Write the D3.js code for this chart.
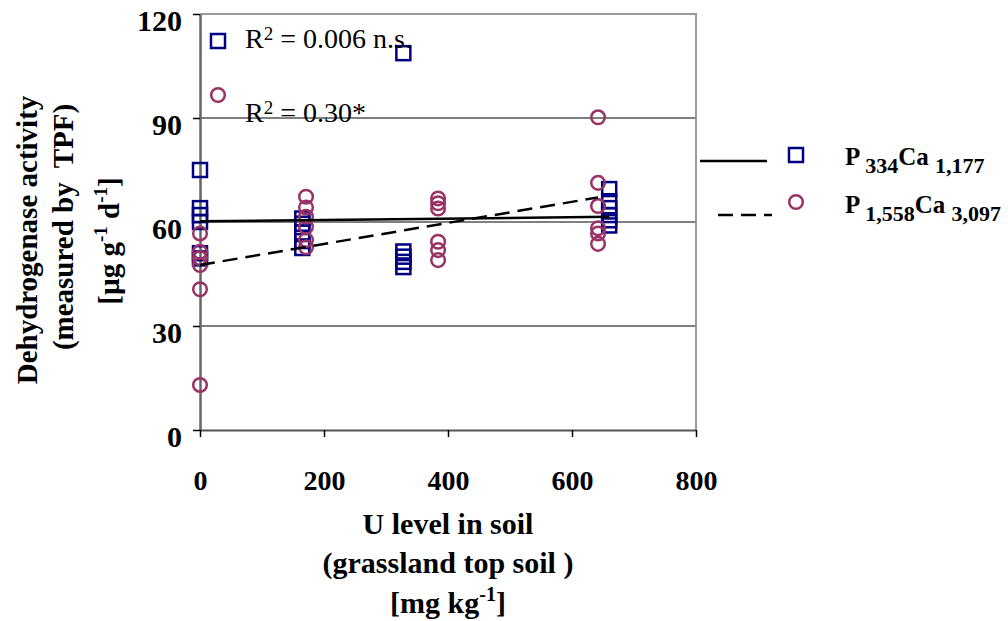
<!DOCTYPE html>
<html>
<head>
<meta charset="utf-8">
<script src="https://cdn.jsdelivr.net/npm/d3@7"></script>
<style>
  body { margin: 0; background: #fff; }
  #chart { width: 1008px; height: 621px; }
  text { font-family: "Liberation Serif", "Times New Roman", serif; fill: #000; }
</style>
</head>
<body>
<div id="chart"></div>
<script>
// U level in soil [mg/kg] and dehydrogenase activity, P334Ca1,177
const sqU = [0, 0, 0, 0, 0, 0, 165, 165, 165, 165, 165, 328, 328, 328, 328, 328, 660, 660, 660, 660, 660, 660];
const sqAct = [75, 64, 62, 60, 51, 49.5, 61, 59.5, 57, 54.5, 52.5, 108.7, 51.5, 50, 48.5, 47, 69.5, 66, 64, 62, 60.5, 59];

// P1,558Ca3,097
const ciU = [0, 0, 0, 0, 0, 0, 171, 171, 171, 171, 171, 171, 384, 384, 384, 384, 384, 384, 642, 642, 642, 642, 642, 642];
const ciAct = [56.7, 51.4, 49.6, 47.6, 40.6, 13, 67.3, 64.2, 61.5, 58.6, 54.8, 52.7, 66.8, 65.4, 63.9, 54.3, 51.9, 49, 90.2, 71.3, 64.6, 58.2, 56.7, 53.7];

// trend lines
const trendSolid = [[0, 60.2], [660, 61.5]];
const trendDashed = [[0, 47.6], [642, 67.1]];

const xTicks = [0, 200, 400, 600, 800];
const yTicks = [0, 30, 60, 90, 120];
const gridValues = [30, 60, 90];

const navy = "#000080";
const plum = "#993366";

const svg = d3.select("#chart").append("svg")
    .attr("width", 1008)
    .attr("height", 621);

const plotL = 200, plotR = 696, plotT = 14, plotB = 430;

const x = d3.scaleLinear().domain([0, 800]).range([plotL, plotR]);
const y = d3.scaleLinear().domain([0, 120]).range([plotB, plotT]);

// gridlines
svg.append("g")
    .selectAll("line")
    .data(gridValues)
    .enter()
    .append("line")
    .attr("x1", plotL).attr("x2", plotR)
    .attr("y1", d => y(d)).attr("y2", d => y(d))
    .attr("stroke", "#000")
    .attr("stroke-width", 1);

// frame top/right
svg.append("path")
    .attr("d", `M${plotL},${plotT}H${plotR}V${plotB}`)
    .attr("fill", "none")
    .attr("stroke", "#9a9a9a")
    .attr("stroke-width", 2);

// axes
const yAxis = svg.append("g")
    .attr("transform", `translate(${plotL},0)`)
    .call(d3.axisLeft(y).tickValues(yTicks).tickSize(7).tickSizeOuter(0).tickPadding(11));
yAxis.select(".domain").attr("stroke", "#666").attr("stroke-width", 2.5);
yAxis.selectAll(".tick line").attr("stroke", "#000").attr("stroke-width", 1.5);
yAxis.selectAll("text")
    .attr("dy", "0.55em")
    .style("font-size", "30px")
    .style("font-weight", "bold")
    .style("font-family", "'Liberation Serif', serif");

const xAxis = svg.append("g")
    .attr("transform", `translate(0,${plotB})`)
    .call(d3.axisBottom(x).tickValues(xTicks).tickSize(7).tickSizeOuter(0).tickPadding(33));
xAxis.select(".domain").attr("stroke", "#555").attr("stroke-width", 2);
xAxis.selectAll(".tick line").attr("stroke", "#000").attr("stroke-width", 1.5);
xAxis.selectAll("text")
    .style("font-size", "28px")
    .style("font-weight", "bold")
    .style("font-family", "'Liberation Serif', serif");

// markers
const sqSide = 14;
svg.append("g")
    .selectAll("rect")
    .data(sqU.map((u, i) => [u, sqAct[i]]))
    .enter()
    .append("rect")
    .attr("x", d => x(d[0]) - sqSide / 2)
    .attr("y", d => y(d[1]) - sqSide / 2)
    .attr("width", sqSide)
    .attr("height", sqSide)
    .attr("fill", "none")
    .attr("stroke", navy)
    .attr("stroke-width", 2.5);

svg.append("g")
    .selectAll("circle")
    .data(ciU.map((u, i) => [u, ciAct[i]]))
    .enter()
    .append("circle")
    .attr("cx", d => x(d[0]))
    .attr("cy", d => y(d[1]))
    .attr("r", 6.8)
    .attr("fill", "none")
    .attr("stroke", plum)
    .attr("stroke-width", 2.5);

// trend lines
const line = d3.line().x(d => x(d[0])).y(d => y(d[1]));
svg.append("path")
    .datum(trendSolid)
    .attr("d", line)
    .attr("fill", "none")
    .attr("stroke", "#000")
    .attr("stroke-width", 2.5);
svg.append("path")
    .datum(trendDashed)
    .attr("d", line)
    .attr("fill", "none")
    .attr("stroke", "#000")
    .attr("stroke-width", 2.5)
    .attr("stroke-dasharray", "15,8");

// R² annotations
const rNotes = [
    { sym: "square", label: " = 0.006 n.s.", sy: 41, ty: 48 },
    { sym: "circle", label: " = 0.30*", sy: 95, ty: 122 }
];
rNotes.forEach(n => {
    if (n.sym === "square") {
        svg.append("rect")
            .attr("x", 218 - sqSide / 2).attr("y", n.sy - sqSide / 2)
            .attr("width", sqSide).attr("height", sqSide)
            .attr("fill", "none").attr("stroke", navy).attr("stroke-width", 2.5);
    } else {
        svg.append("circle")
            .attr("cx", 218).attr("cy", n.sy).attr("r", 6.8)
            .attr("fill", "none").attr("stroke", plum).attr("stroke-width", 2.5);
    }
    const t = svg.append("text")
        .attr("x", 245).attr("y", n.ty)
        .style("font-size", "28px");
    t.append("tspan").text("R");
    t.append("tspan").attr("dy", -8).style("font-size", "19px").text("2");
    t.append("tspan").attr("dy", 8).text(n.label);
});

// legend
const legend = [
    { dash: null, sym: "square", p: "334", ca: "1,177", ly: 161, x1: 700, x2: 767, sy: 155, ty: 165 },
    { dash: "15,8", sym: "circle", p: "1,558", ca: "3,097", ly: 215, x1: 718, x2: 772, sy: 202, ty: 213 }
];
legend.forEach(l => {
    svg.append("line")
        .attr("x1", l.x1).attr("x2", l.x2)
        .attr("y1", l.ly).attr("y2", l.ly)
        .attr("stroke", "#000").attr("stroke-width", 2.5)
        .attr("stroke-dasharray", l.dash);
    if (l.sym === "square") {
        svg.append("rect")
            .attr("x", 796 - sqSide / 2).attr("y", l.sy - sqSide / 2)
            .attr("width", sqSide).attr("height", sqSide)
            .attr("fill", "none").attr("stroke", navy).attr("stroke-width", 2.5);
    } else {
        svg.append("circle")
            .attr("cx", 796).attr("cy", l.sy).attr("r", 6.8)
            .attr("fill", "none").attr("stroke", plum).attr("stroke-width", 2.5);
    }
    const t = svg.append("text")
        .attr("x", 845).attr("y", l.ty)
        .style("font-size", "25px")
        .style("font-weight", "bold");
    t.append("tspan").text("P ");
    t.append("tspan").attr("dy", 8).style("font-size", "22px").text(l.p);
    t.append("tspan").attr("dy", -8).text("Ca ");
    t.append("tspan").attr("dy", 8).style("font-size", "22px").text(l.ca);
});

// y-axis title
const yTitle = [
    { text: "Dehydrogenase activity", bx: 37, cy: 240 },
    { text: "(measured by\u00a0 TPF)", bx: 73, cy: 227 }
];
yTitle.forEach(l => {
    svg.append("text")
        .attr("transform", `translate(${l.bx},${l.cy}) rotate(-90)`)
        .attr("text-anchor", "middle")
        .style("font-size", "29px")
        .style("font-weight", "bold")
        .text(l.text);
});
const unitY = svg.append("text")
    .attr("transform", "translate(119,241) rotate(-90)")
    .attr("text-anchor", "middle")
    .style("font-size", "29px")
    .style("font-weight", "bold");
unitY.append("tspan").text("[µg g");
unitY.append("tspan").attr("dy", -12).style("font-size", "19px").text("-1");
unitY.append("tspan").attr("dy", 12).text(" d");
unitY.append("tspan").attr("dy", -12).style("font-size", "19px").text("-1");
unitY.append("tspan").attr("dy", 12).text("]");

// x-axis title
const xc = (plotL + plotR) / 2;
svg.append("text")
    .attr("x", xc).attr("y", 534)
    .attr("text-anchor", "middle")
    .style("font-size", "30px").style("font-weight", "bold")
    .text("U  level  in  soil");
svg.append("text")
    .attr("x", xc).attr("y", 573)
    .attr("text-anchor", "middle")
    .style("font-size", "30px").style("font-weight", "bold")
    .text("(grassland top soil )");
const unitX = svg.append("text")
    .attr("x", xc).attr("y", 613)
    .attr("text-anchor", "middle")
    .style("font-size", "30px").style("font-weight", "bold");
unitX.append("tspan").text("[mg kg");
unitX.append("tspan").attr("dy", -12).style("font-size", "20px").text("-1");
unitX.append("tspan").attr("dy", 12).text("]");
</script>
</body>
</html>
